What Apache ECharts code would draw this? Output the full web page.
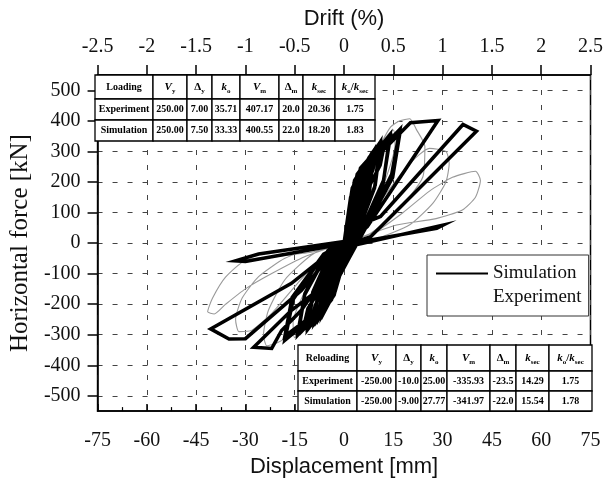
<!DOCTYPE html>
<html>
<head>
<meta charset="utf-8">
<script src="https://cdn.jsdelivr.net/npm/echarts@6/dist/echarts.min.js"></script>
<style>html,body{margin:0;padding:0;background:#fff}#c{width:606px;height:483px}</style>
</head>
<body>
<div id="c"></div>
<script>
// ---- tick values ----
const dispTicks = [-75, -60, -45, -30, -15, 0, 15, 30, 45, 60, 75];
const driftTicks = [-2.5, -2, -1.5, -1, -0.5, 0, 0.5, 1, 1.5, 2, 2.5];
const forceTicks = [-500, -400, -300, -200, -100, 0, 100, 200, 300, 400, 500];

// ---- series (displacement mm, force kN) ----
const simulation = [
  [0,0],
  [0.9,63],[2,90],[1.7,50],[0.7,7],[-0.9,-60],[-2,-85],[-1.7,-47],[-0.7,-6],[0,0],
  [1.3,98],[3,140],[2.6,77],[1.1,11],[-1.3,-91],[-3,-130],[-2.6,-72],[-1.0,-10],[0,0],
  [1.8,126],[4,180],[3.4,99],[1.4,14],[-1.8,-119],[-4,-170],[-3.4,-94],[-1.4,-14],[0,0],
  [2.3,150],[5,215],[4.3,118],[1.8,17],[-2.3,-140],[-5,-200],[-4.3,-110],[-1.8,-16],[0,0],
  [2,150],[5.5,230],[4.8,170],[2,60],[-2,-130],[-5.5,-210],[-4.8,-150],[-2,-50],[0,0],
  [2.7,172],[6,245],[5.1,135],[2.1,20],[-2.7,-158],[-6,-225],[-5.1,-124],[-2.1,-18],[0,0],
  [2.5,180],[6.5,258],[5.6,190],[2.4,80],[-2.5,-150],[-6.5,-232],[-5.6,-170],[-2.5,-70],[0,0],
  [3.4,193],[7.5,275],[6.4,151],[2.6,22],[-3.4,-172],[-7.5,-245],[-6.4,-135],[-2.6,-20],[0,0],
  [3.0,185],[7.5,262],[6.5,160],[3.0,30],[-3.2,-165],[-7.5,-238],[-6.5,-140],[-2.8,-25],[0,0],
  [3.2,205],[8,285],[7,215],[3,95],[-3,-170],[-8,-250],[-7,-190],[-3,-85],[0,0],
  [4.0,210],[9,300],[7.6,165],[3.1,24],[-4.0,-183],[-9,-262],[-7.6,-144],[-3.1,-21],[0,0],
  [3.6,200],[9,288],[7.8,175],[3.4,32],[-3.8,-178],[-9,-252],[-7.8,-150],[-3.3,-28],[0,0],
  [4,225],[10,310],[8.8,240],[3.8,110],[-3.8,-185],[-10,-268],[-8.8,-205],[-3.6,-95],[0,0],
  [4.9,231],[11,330],[9.3,181],[3.8,26],[-4.9,-197],[-11,-282],[-9.3,-155],[-3.8,-23],[0,0],
  [4.5,222],[11,318],[9.5,190],[4.0,34],[-4.6,-190],[-11,-272],[-9.5,-160],[-4,-30],[0,0],
  [5,245],[12.5,335],[11,255],[4.5,120],[-4.8,-200],[-12.5,-285],[-11,-215],[-4.5,-100],[0,0],
  [6.3,250],[14,355],[11.9,195],[4.9,28],[-6.3,-210],[-14,-300],[-11.9,-165],[-4.9,-25],[0,0],
  [5.8,240],[14,342],[12,205],[5,36],[-6,-203],[-14,-290],[-12,-170],[-5,-32],[0,0],
  [7,262],[17,372],[14.5,225],[6,40],[-7,-220],[-18,-318],[-15.5,-185],[-6,-35],[0,0],
  [6.6,255],[17,360],[14.8,215],[6.2,42],[-6.8,-214],[-18,-305],[-15.8,-178],[-6.2,-36],[0,0],
  [3.5,150],[7.1,251],[20.2,394],[28.6,401],[7.1,54],[0,-12],
  [-8,-155],[-16,-220],[-27.5,-341],[-22,-345],[-19,-286],[-13,-220],[-6,-110],[0,-10],
  [5,60],[11.1,87],[36.2,388],[40.3,366],[8.1,21],[0,-10],
  [-2,-12],[-16,-132],[-40.6,-281],[-35,-314],[-30,-313],[-13,-155],[-4,-40],[0,-15],
  [30.2,59],[28.2,48],[5,4],[0,5],
  [-26,-36],[-33,-58],[-30,-60],[-3,-8],[0,0]
];

const experiment = [
  [0,0],
  [1.5,80],[3,140],[5,200],[4.3,140],[2.5,50],[0.8,5],[-1.5,-70],[-3,-130],[-5,-185],[-4.3,-125],[-2.5,-40],[-0.8,-4],[0,0],
  [3,130],[6,230],[10,310],[9,250],[6,140],[3,40],[0,0],[-3,-110],[-6,-200],[-10,-270],[-9,-210],[-6,-120],[-3,-30],[0,0],
  [4,150],[9,290],[15,370],[15.5,320],[12,190],[7,70],[2,5],[0,-5],[-4,-130],[-9,-240],[-15,-310],[-15.5,-260],[-12,-160],[-6,-50],[0,0],
  [3,100],[7,230],[11,320],[14.2,380],[17,400],[20,407],[22,372],[24.6,317],[24,217],[20,152],[14,80],[7,25],[0,-5],
  [-3,-80],[-8,-200],[-15,-290],[-20,-325],[-23.5,-336],[-24.5,-300],[-23,-220],[-18,-120],[-10,-40],[-3,-5],[0,0],
  [5,40],[12,150],[20,260],[26,310],[31,300],[32,260],[31,200],[27,130],[20,60],[10,15],[0,-5],
  [-6,-40],[-14,-130],[-22,-230],[-28,-285],[-32,-290],[-33,-250],[-31,-180],[-26,-110],[-18,-50],[-8,-10],[0,0],
  [10,40],[18,100],[26,170],[33,215],[40,235],[41.5,205],[40,150],[36,108],[28,80],[16,59],[8,30],[0,0],
  [-10,-30],[-22,-45],[-30,-56],[-36,-111],[-40,-180],[-41.5,-225],[-39.5,-232],[-36,-200],[-30,-150],[-22,-100],[-12,-45],[0,0]
];

// ---- table texts ----
const tableHeaders = ['V_y', 'Δ_y', 'k_o', 'V_m', 'Δ_m', 'k_sec', 'k_o/k_sec'];
const loadingTitle = 'Loading';
const loadingExperiment = ['Experiment', '250.00', '7.00', '35.71', '407.17', '20.0', '20.36', '1.75'];
const loadingSimulation = ['Simulation', '250.00', '7.50', '33.33', '400.55', '22.0', '18.20', '1.83'];
const reloadingTitle = 'Reloading';
const reloadingExperiment = ['Experiment', '-250.00', '-10.0', '25.00', '-335.93', '-23.5', '14.29', '1.75'];
const reloadingSimulation = ['Simulation', '-250.00', '-9.00', '27.77', '-341.97', '-22.0', '15.54', '1.78'];

// ---- layout of the tables (pixels) ----
const topTableGeo = { x: [95,153,187,212,240,279,303,335,375], y: [75,99,120,141] };
const botTableGeo = { x: [298,357,396,421,447,490,516,549,592], y: [345,371,391,411] };

const SERIF = '"Liberation Serif", "Times New Roman", serif';
const SANS = '"Liberation Sans", Arial, sans-serif';

function headerRich(h) {
  if (h.indexOf('_') < 0) return '{t|' + h + '}';
  return h.split('/').map(function (p) {
    const parts = p.split('_');
    const main = parts[0] === 'Δ' ? '{n|Δ}' : '{i|' + parts[0] + '}';
    return main + '{s|' + parts[1] + '}';
  }).join('{n|/}');
}
const richStyles = {
  t: { fontFamily: SERIF, fontWeight: 'bold', fontSize: 10, lineHeight: 16 },
  i: { fontFamily: SERIF, fontWeight: 'bold', fontStyle: 'italic', fontSize: 11, lineHeight: 16 },
  n: { fontFamily: SERIF, fontWeight: 'bold', fontSize: 11, lineHeight: 16 },
  s: { fontFamily: SERIF, fontWeight: 'bold', fontSize: 7, lineHeight: 8, verticalAlign: 'bottom' }
};

function buildTable(geo, title, rows) {
  const els = [];
  const grid = [[title].concat(tableHeaders)].concat(rows);
  for (let r = 0; r < grid.length; r++) {
    for (let c = 0; c < grid[r].length; c++) {
      const x0 = geo.x[c], x1 = geo.x[c + 1], y0 = geo.y[r], y1 = geo.y[r + 1];
      els.push({
        type: 'rect', z: 100,
        shape: { x: x0, y: y0, width: x1 - x0, height: y1 - y0 },
        style: { fill: '#fff', stroke: '#000', lineWidth: 1.3 }
      });
      const txt = grid[r][c];
      els.push({
        type: 'text', z: 101,
        x: (x0 + x1) / 2, y: (y0 + y1) / 2,
        style: r === 0 ? {
          text: headerRich(txt), rich: richStyles,
          align: 'center', verticalAlign: 'middle', fill: '#000'
        } : {
          text: txt, font: 'bold 10px ' + SERIF,
          align: 'center', verticalAlign: 'middle', fill: '#000'
        }
      });
    }
  }
  return els;
}

const chart = echarts.init(document.getElementById('c'), null, { renderer: 'canvas' });

const axisLineStyle = { color: '#000', width: 1.5 };
const labelStyle = { fontFamily: SERIF, fontSize: 20, color: '#111' };
const gridLineStyle = { type: [5, 10], color: '#444', width: 1 };

chart.setOption({
  animation: false,
  backgroundColor: '#fff',
  grid: { left: 94, right: 13, top: 75, bottom: 71, show: true, borderColor: '#000', borderWidth: 1.5 },
  legend: {
    orient: 'vertical', left: 427, top: 255,
    padding: [9, 7, 9, 8], itemGap: 5, itemWidth: 52, itemHeight: 14,
    borderColor: '#333', borderWidth: 1, backgroundColor: '#fff',
    itemStyle: { opacity: 0 },
    textStyle: { fontFamily: SERIF, fontSize: 19, color: '#111' },
    data: [
      { name: 'Simulation' },
      { name: 'Experiment', lineStyle: { opacity: 0 } }
    ]
  },
  xAxis: [
    {
      type: 'value', min: dispTicks[0], max: dispTicks[dispTicks.length - 1], interval: 15,
      position: 'bottom',
      name: 'Displacement [mm]', nameLocation: 'middle', nameGap: 44,
      nameTextStyle: { fontFamily: SANS, fontSize: 22, color: '#111' },
      axisLine: { show: true, onZero: false, lineStyle: axisLineStyle },
      axisTick: { show: true, inside: true, length: 7, lineStyle: axisLineStyle },
      minorTick: { show: true, splitNumber: 2, length: 4, lineStyle: { color: '#000', width: 1.2 } },
      axisLabel: Object.assign({ margin: 20, customValues: dispTicks }, labelStyle),
      splitLine: { show: true, lineStyle: gridLineStyle }
    },
    {
      type: 'value', min: driftTicks[0], max: driftTicks[driftTicks.length - 1], interval: 0.5,
      position: 'top',
      name: 'Drift (%)', nameLocation: 'middle', nameGap: 45,
      nameTextStyle: { fontFamily: SANS, fontSize: 22, color: '#111' },
      axisLine: { show: true, onZero: false, lineStyle: axisLineStyle },
      axisTick: { show: true, inside: false, length: 10, lineStyle: axisLineStyle },
      axisLabel: Object.assign({ margin: 18, customValues: driftTicks }, labelStyle),
      splitLine: { show: false }
    }
  ],
  yAxis: [
    {
      type: 'value', min: -550, max: 550,
      name: 'Horizontal force [kN]', nameLocation: 'middle', nameGap: 61, nameRotate: 90,
      nameTextStyle: { fontFamily: SERIF, fontSize: 25, color: '#111' },
      axisLine: { show: true, onZero: false, lineStyle: axisLineStyle },
      axisTick: { show: true, inside: false, length: 10, customValues: forceTicks, lineStyle: axisLineStyle },
      axisLabel: Object.assign({ margin: 17, customValues: forceTicks }, labelStyle),
      splitLine: { show: true, lineStyle: gridLineStyle }
    }
  ],
  series: [
    {
      name: 'Experiment', type: 'line', xAxisIndex: 0, yAxisIndex: 0,
      data: experiment, symbol: 'none', smooth: 0.2, z: 3,
      itemStyle: { color: '#999' },
      lineStyle: { color: '#999', width: 1.1 }
    },
    {
      name: 'Simulation', type: 'line', xAxisIndex: 0, yAxisIndex: 0,
      data: simulation, symbol: 'none', smooth: false, z: 4,
      itemStyle: { color: '#000' },
      lineStyle: { color: '#000', width: 3.5, join: 'miter' }
    }
  ],
  graphic: {
    elements: buildTable(topTableGeo, loadingTitle, [loadingExperiment, loadingSimulation])
      .concat(buildTable(botTableGeo, reloadingTitle, [reloadingExperiment, reloadingSimulation]))
  }
});
</script>
</body>
</html>
